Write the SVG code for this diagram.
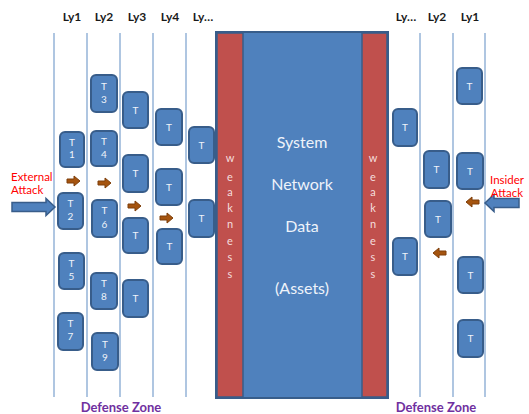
<svg xmlns="http://www.w3.org/2000/svg" width="529" height="414" viewBox="0 0 529 414">
<style>
.ly{font-family:Lato,"Liberation Sans",sans-serif;font-weight:bold;font-size:12px;fill:#1a1a1a;text-anchor:middle}
.ln{stroke:#95b3d7;stroke-width:1.5}
.t rect{fill:#4f81bd;stroke:#385d8a;stroke-width:2}
.t text{font-family:Lato,"Liberation Sans",sans-serif;font-size:10px;fill:#eef3fa;text-anchor:middle}
.oa{fill:#a5540f;stroke:#7f3f0a;stroke-width:1}
.ba{fill:#4f81bd;stroke:#385d8a;stroke-width:1.5}
.red{font-family:Lato,"Liberation Sans",sans-serif;font-size:11.5px;fill:#ff0000}
.dz{font-family:Lato,"Liberation Sans",sans-serif;font-weight:bold;font-size:13px;fill:#7030a0;text-anchor:middle}
.ct{font-family:Lato,"Liberation Sans",sans-serif;font-size:16px;fill:#eef3fa;text-anchor:middle}
.wk{font-family:Lato,"Liberation Sans",sans-serif;font-size:11px;fill:#f4dedd;text-anchor:middle}
</style>
<rect width="529" height="414" fill="#ffffff"/>

<!-- layer labels -->
<g id="labels">
<text class="ly" x="72" y="21">Ly1</text>
<text class="ly" x="104" y="21">Ly2</text>
<text class="ly" x="137" y="21">Ly3</text>
<text class="ly" x="170" y="21">Ly4</text>
<text class="ly" x="203" y="21">Ly…</text>
<text class="ly" x="406" y="21">Ly…</text>
<text class="ly" x="437" y="21">Ly2</text>
<text class="ly" x="470" y="21">Ly1</text>
</g>

<!-- layer lines -->
<g id="layer-lines">
<line class="ln" x1="54" y1="33" x2="54" y2="397"/>
<line class="ln" x1="87" y1="33" x2="87" y2="397"/>
<line class="ln" x1="120" y1="33" x2="120" y2="397"/>
<line class="ln" x1="153" y1="33" x2="153" y2="397"/>
<line class="ln" x1="186" y1="33" x2="186" y2="397"/>
<line class="ln" x1="420" y1="33" x2="420" y2="397"/>
<line class="ln" x1="453" y1="33" x2="453" y2="397"/>
<line class="ln" x1="485" y1="33" x2="485" y2="397"/>
</g>

<!-- central assets -->
<g id="assets">
<rect x="216" y="32" width="172" height="366" fill="#4f81bd" stroke="#385d8a" stroke-width="2"/>
<rect x="217" y="33" width="26" height="364" fill="#c0504d" stroke="#385d8a" stroke-width="1.5"/>
<rect x="362" y="33" width="25" height="364" fill="#c0504d" stroke="#385d8a" stroke-width="1.5"/>
<text class="ct" x="302" y="148">System</text>
<text class="ct" x="302" y="190">Network</text>
<text class="ct" x="302" y="232">Data</text>
<text class="ct" x="302" y="294">(Assets)</text>
<g class="wk">
<text x="230" y="162">w</text><text x="230" y="181">e</text><text x="230" y="196">a</text><text x="230" y="212">k</text><text x="230" y="228">n</text><text x="230" y="245">e</text><text x="230" y="261">s</text><text x="230" y="278">s</text>
<text x="373" y="162">w</text><text x="373" y="181">e</text><text x="373" y="196">a</text><text x="373" y="212">k</text><text x="373" y="228">n</text><text x="373" y="245">e</text><text x="373" y="261">s</text><text x="373" y="278">s</text>
</g>
</g>

<!-- Left Ly1 -->
<g id="T1" class="t"><rect x="60" y="132" width="24" height="35" rx="5"/><text x="72" y="146">T</text><text x="72" y="158">1</text></g>
<g id="T2" class="t"><rect x="58" y="193" width="25" height="36" rx="5"/><text x="70.5" y="207">T</text><text x="70.5" y="220">2</text></g>
<g id="T5" class="t"><rect x="59" y="253" width="25" height="36" rx="5"/><text x="71.5" y="267">T</text><text x="71.5" y="280">5</text></g>
<g id="T7" class="t"><rect x="58" y="313" width="25" height="37" rx="5"/><text x="70.5" y="327">T</text><text x="70.5" y="340">7</text></g>
<!-- Left Ly2 -->
<g id="T3" class="t"><rect x="91" y="75" width="26" height="37" rx="5"/><text x="104" y="90">T</text><text x="104" y="103">3</text></g>
<g id="T4" class="t"><rect x="91" y="131" width="26" height="35" rx="5"/><text x="104" y="145">T</text><text x="104" y="158">4</text></g>
<g id="T6" class="t"><rect x="92" y="200" width="25" height="37" rx="5"/><text x="104.5" y="214">T</text><text x="104.5" y="228">6</text></g>
<g id="T8" class="t"><rect x="91" y="273" width="26" height="36" rx="5"/><text x="104" y="287">T</text><text x="104" y="300">8</text></g>
<g id="T9" class="t"><rect x="92" y="333" width="26" height="37" rx="5"/><text x="105" y="348">T</text><text x="105" y="361">9</text></g>
<!-- Left Ly3 -->
<g id="L3a" class="t"><rect x="123" y="92" width="25" height="36" rx="5"/><text x="135.5" y="114">T</text></g>
<g id="L3b" class="t"><rect x="123" y="155" width="25" height="37" rx="5"/><text x="135.5" y="177">T</text></g>
<g id="L3c" class="t"><rect x="123" y="218" width="25" height="35" rx="5"/><text x="135.5" y="239">T</text></g>
<g id="L3d" class="t"><rect x="123" y="280" width="25" height="37" rx="5"/><text x="135.5" y="302">T</text></g>
<!-- Left Ly4 -->
<g id="L4a" class="t"><rect x="156" y="109" width="26" height="36" rx="5"/><text x="169" y="131">T</text></g>
<g id="L4b" class="t"><rect x="156" y="169" width="26" height="36" rx="5"/><text x="169" y="191">T</text></g>
<g id="L4c" class="t"><rect x="157" y="229" width="25" height="35" rx="5"/><text x="169.5" y="250">T</text></g>
<!-- Left Ly... -->
<g id="L5a" class="t"><rect x="189" y="127" width="25" height="36" rx="5"/><text x="201.5" y="149">T</text></g>
<g id="L5b" class="t"><rect x="189" y="200" width="25" height="37" rx="5"/><text x="201.5" y="222">T</text></g>
<!-- Right Ly... -->
<g id="R5a" class="t"><rect x="393" y="109" width="24" height="37" rx="5"/><text x="405" y="131">T</text></g>
<g id="R5b" class="t"><rect x="393" y="238" width="24" height="37" rx="5"/><text x="405" y="260">T</text></g>
<!-- Right Ly2 -->
<g id="R2a" class="t"><rect x="424" y="151" width="25" height="37" rx="5"/><text x="436.5" y="173">T</text></g>
<g id="R2b" class="t"><rect x="425" y="201" width="26" height="36" rx="5"/><text x="438" y="223">T</text></g>
<!-- Right Ly1 -->
<g id="R1a" class="t"><rect x="457" y="68" width="25" height="36" rx="5"/><text x="469.5" y="90">T</text></g>
<g id="R1b" class="t"><rect x="457" y="153" width="26" height="36" rx="5"/><text x="470" y="175">T</text></g>
<g id="R1c" class="t"><rect x="458" y="257" width="25" height="36" rx="5"/><text x="470.5" y="279">T</text></g>
<g id="R1d" class="t"><rect x="458" y="320" width="25" height="37" rx="5"/><text x="470.5" y="342">T</text></g>

<!-- connectors -->
<g id="connectors">
<path class="ba" d="M12,202.5 H46 V198.5 L55,207 L46,215.5 V211.5 H12 Z"/>
<path class="ba" d="M519,198.5 H494 V194.5 L485,203 L494,211.5 V207.5 H519 Z"/>
<path class="oa" d="M67,179 H74 V176 L80,181 L74,186 V183 H67 Z"/>
<path class="oa" d="M98,181 H105 V178 L111,183 L105,188 V185 H98 Z"/>
<path class="oa" d="M128,204 H135 V201 L141,206 L135,211 V208 H128 Z"/>
<path class="oa" d="M160,216 H167 V213 L173,218 L167,223 V220 H160 Z"/>
<path class="oa" d="M479,200 H472 V197 L466,202 L472,207 V204 H479 Z"/>
<path class="oa" d="M446,251 H439 V248 L433,253 L439,258 V255 H446 Z"/>
</g>

<g id="attack-labels">
<text class="red" x="11" y="181">External</text>
<text class="red" x="11" y="194">Attack</text>
<text class="red" x="507" y="184" text-anchor="middle">Insider</text>
<text class="red" x="507" y="197" text-anchor="middle">Attack</text>
</g>

<g id="zones">
<text class="dz" x="121" y="412">Defense Zone</text>
<text class="dz" x="436" y="412">Defense Zone</text>
</g>
</svg>
